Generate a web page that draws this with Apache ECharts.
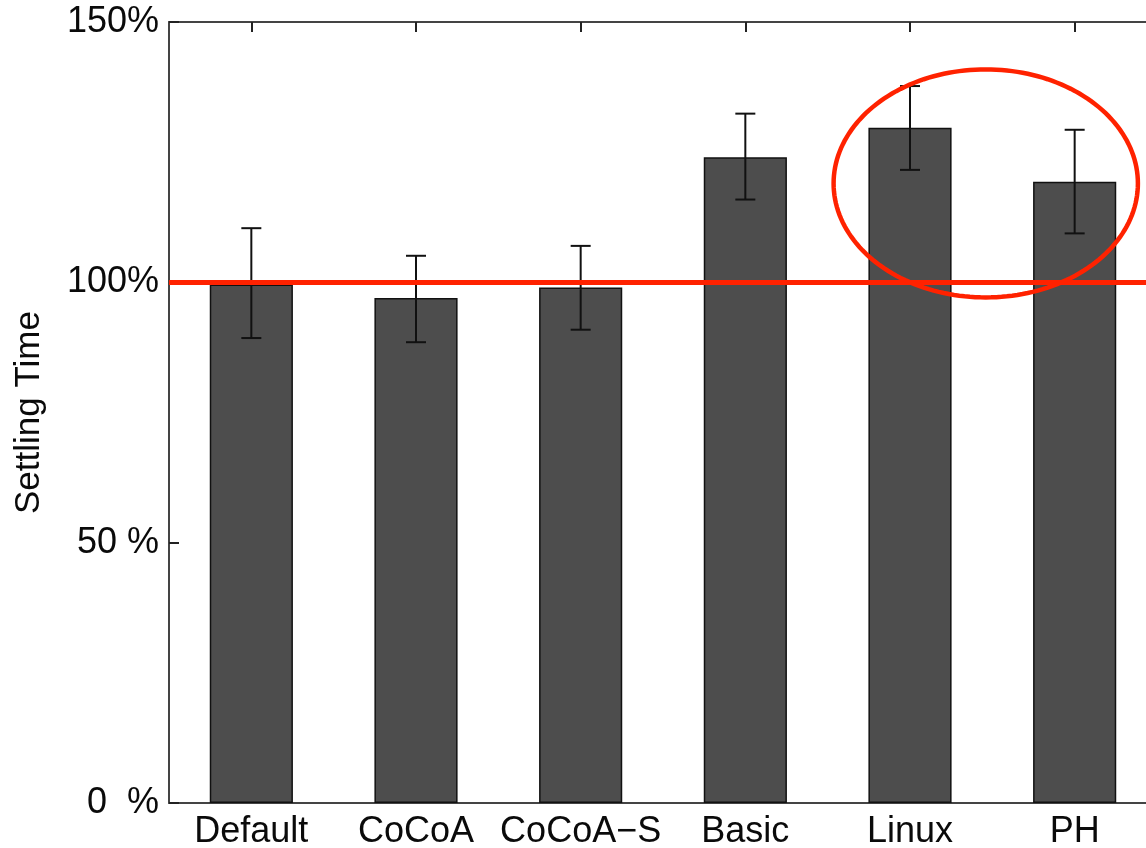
<!DOCTYPE html>
<html>
<head>
<meta charset="utf-8">
<script src="https://cdn.jsdelivr.net/npm/echarts@6/dist/echarts.min.js"></script>
<style>
  html, body { margin: 0; padding: 0; background: #fff; }
  #chart { width: 1146px; height: 848px; }
</style>
</head>
<body>
<div id="chart"></div>
<script>
// ---- data ----
const categories = ['Default', 'CoCoA', 'CoCoA\u2212S', 'Basic', 'Linux', 'PH'];
const settlingTime = [99.6, 97.0, 99.0, 124.0, 129.7, 119.3];
const errorLow  = [89.3, 88.5, 90.9, 115.9, 121.6, 109.4];
const errorHigh = [110.4, 105.1, 107.0, 132.4, 137.7, 129.3];
const yTickValues = [0, 50, 100, 150];
const yTickLabels = ['0  %', '50 %', '100%', '150%'];
const referenceLevel = 100;
// highlight ellipse around Linux / PH (category index, value, half-width in bands, half-height in value units)
const highlightCenter = [4.46, 119.0];
const highlightRadii = [0.924, 21.9];

const FONT = 'Liberation Sans, Arial, Helvetica, sans-serif';
const chart = echarts.init(document.getElementById('chart'));

const errorData = categories.map((c, i) => [i, errorLow[i], errorHigh[i]]);

chart.setOption({
  animation: false,
  backgroundColor: '#ffffff',
  grid: { left: 169, top: 22, height: 781, width: 988, containLabel: false, outerBoundsMode: 'none' },
  xAxis: [{
    type: 'category',
    data: categories,
    position: 'bottom',
    axisLine: { show: true, lineStyle: { color: '#444', width: 2 } },
    axisTick: { show: true, inside: true, alignWithLabel: true, length: 10, lineStyle: { color: '#222', width: 2 } },
    axisLabel: { fontFamily: FONT, fontSize: 36, color: '#0a0a0a', margin: 11, interval: 0, hideOverlap: false },
    splitLine: { show: false }
  }, {
    type: 'category',
    data: categories,
    position: 'top',
    axisLine: { show: true, lineStyle: { color: '#444', width: 2 } },
    axisTick: { show: true, inside: true, alignWithLabel: true, length: 10, lineStyle: { color: '#222', width: 2 } },
    axisLabel: { show: false },
    splitLine: { show: false }
  }],
  yAxis: {
    type: 'value',
    min: 0, max: 150, interval: 50,
    name: 'Settling Time',
    nameLocation: 'middle',
    nameGap: 122,
    nameTextStyle: { fontFamily: FONT, fontSize: 35, color: '#0a0a0a' },
    axisLine: { show: true, lineStyle: { color: '#444', width: 2 } },
    axisTick: { show: true, inside: true, length: 10, lineStyle: { color: '#222', width: 2 } },
    axisLabel: {
      fontFamily: FONT, fontSize: 36, color: '#0a0a0a', margin: 10,
      formatter: function (v) { const k = yTickValues.indexOf(v); return k >= 0 ? yTickLabels[k] : ''; }
    },
    splitLine: { show: false }
  },
  series: [{
    type: 'bar',
    data: settlingTime,
    barWidth: '50.5%',
    itemStyle: { color: '#4d4d4d', borderColor: '#111', borderWidth: 1.5 },
    silent: true,
    z: 2
  }, {
    type: 'custom',
    data: errorData,
    z: 3,
    silent: true,
    renderItem: function (params, api) {
      const i = api.value(0);
      const lo = api.coord([i, api.value(1)]);
      const hi = api.coord([i, api.value(2)]);
      const cap = 10;
      const st = { stroke: '#111', lineWidth: 2 };
      return {
        type: 'group',
        children: [
          { type: 'line', shape: { x1: hi[0], y1: hi[1], x2: lo[0], y2: lo[1] }, style: st },
          { type: 'line', shape: { x1: hi[0] - cap, y1: hi[1], x2: hi[0] + cap, y2: hi[1] }, style: st },
          { type: 'line', shape: { x1: lo[0] - cap, y1: lo[1], x2: lo[0] + cap, y2: lo[1] }, style: st }
        ]
      };
    }
  }, {
    type: 'custom',
    data: [[Math.floor(highlightCenter[0]), highlightCenter[1]]],
    z: 5,
    silent: true,
    renderItem: function (params, api) {
      const base = api.coord([api.value(0), api.value(1)]);
      const band = api.size([1, 0])[0];
      const cx = base[0] + (highlightCenter[0] - Math.floor(highlightCenter[0])) * band;
      const cy = base[1];
      const rx = highlightRadii[0] * band;
      const ry = api.size([0, highlightRadii[1]])[1];
      const pts = [];
      const N = 180;
      for (let k = 0; k < N; k++) {
        const t = (k / N) * Math.PI * 2;
        pts.push([cx + rx * Math.cos(t), cy + ry * Math.sin(t)]);
      }
      return {
        type: 'polygon',
        shape: { points: pts },
        style: { fill: 'none', stroke: '#ff2200', lineWidth: 4.5 }
      };
    }
  }, {
    type: 'line',
    data: [],
    silent: true,
    markLine: {
      silent: true,
      symbol: ['none', 'none'],
      label: { show: false },
      lineStyle: { color: '#ff2200', width: 5, type: 'solid' },
      data: [{ yAxis: referenceLevel }],
      z: 4
    }
  }]
});
</script>
</body>
</html>
